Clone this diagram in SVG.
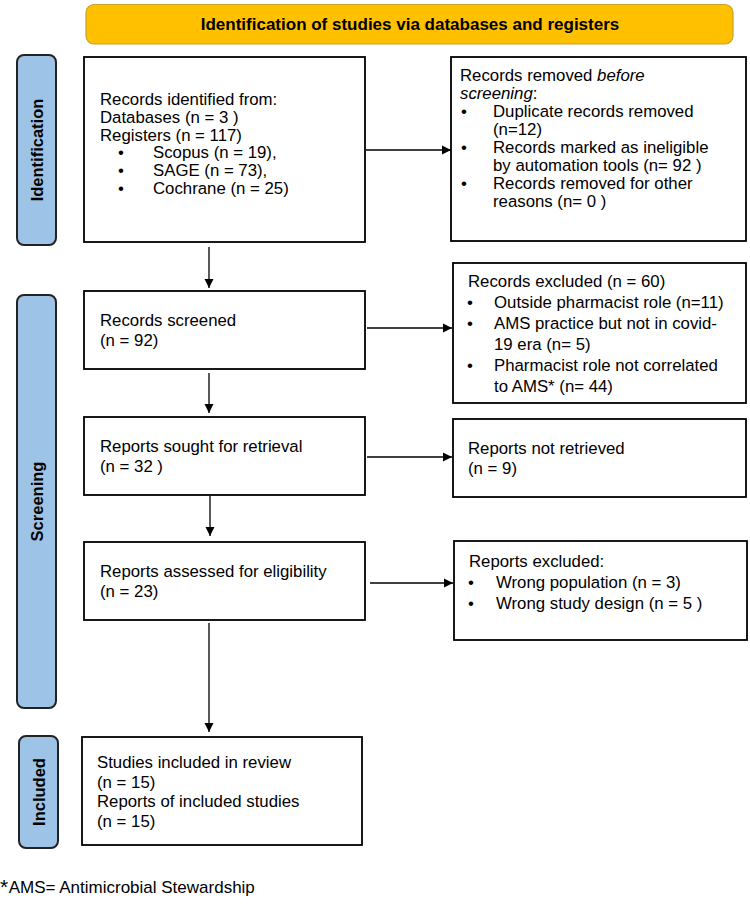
<svg xmlns="http://www.w3.org/2000/svg" width="750" height="904" viewBox="0 0 750 904">
<style>
text{font-family:"Liberation Sans",Arial,sans-serif;fill:#000}
.t{font-size:16.8px}
.side{font-size:16.5px;font-weight:bold;text-anchor:middle}
.box{fill:#fff;stroke:#000;stroke-width:1.8}
.sb{fill:#9DC3E6;stroke:#222;stroke-width:2}
.c{stroke:#000;stroke-width:1.3;fill:none}
</style>
<defs>
<marker id="ah" viewBox="0 0 10 10" refX="10" refY="5" markerWidth="9" markerHeight="11" markerUnits="userSpaceOnUse" orient="auto">
<path d="M0,0 L10,5 L0,10 z" fill="#000"/>
</marker>
</defs>
<rect width="750" height="904" fill="#fff"/>

<g id="title">
<rect x="86" y="4.5" width="647" height="39.5" rx="8" fill="#FFC000" stroke="#C9A02A" stroke-width="1.2"/>
<text x="410" y="30" style="font-size:17px;font-weight:bold" text-anchor="middle">Identification of studies via databases and registers</text>
</g>

<g id="side-identification">
<rect class="sb" x="17" y="55" width="39" height="190" rx="7"/>
<text class="side" transform="translate(43,150) rotate(-90)">Identification</text>
</g>
<g id="side-screening">
<rect class="sb" x="17" y="295" width="39" height="413" rx="7"/>
<text class="side" transform="translate(42.5,501.5) rotate(-90)">Screening</text>
</g>
<g id="side-included">
<rect class="sb" x="19" y="736" width="39" height="112" rx="7"/>
<text class="side" transform="translate(44.5,792) rotate(-90)">Included</text>
</g>

<g id="records-identified">
<rect class="box" x="84" y="57" width="281" height="185"/>
<text class="t" x="100" y="105">Records identified from:</text>
<text class="t" x="100" y="122.8">Databases (n = 3 )</text>
<text class="t" x="100" y="140.6">Registers (n = 117)</text>
<text class="t" x="118" y="158.4">•</text><text class="t" x="153" y="158.4">Scopus (n = 19),</text>
<text class="t" x="118" y="176.2">•</text><text class="t" x="153" y="176.2">SAGE (n = 73),</text>
<text class="t" x="118" y="194">•</text><text class="t" x="153" y="194">Cochrane (n = 25)</text>
</g>

<g id="records-removed">
<rect class="box" x="451" y="57" width="295" height="184"/>
<text class="t" x="460" y="80.7">Records removed <tspan font-style="italic">before</tspan></text>
<text class="t" x="460" y="98.7"><tspan font-style="italic">screening</tspan>:</text>
<text class="t" x="461" y="116.7">•</text><text class="t" x="493" y="116.7">Duplicate records removed</text>
<text class="t" x="493" y="134.7">(n=12)</text>
<text class="t" x="461" y="152.7">•</text><text class="t" x="493" y="152.7">Records marked as ineligible</text>
<text class="t" x="493" y="170.7">by automation tools (n= 92 )</text>
<text class="t" x="461" y="188.7">•</text><text class="t" x="493" y="188.7">Records removed for other</text>
<text class="t" x="493" y="206.7">reasons (n= 0 )</text>
</g>

<g id="records-screened">
<rect class="box" x="84" y="291" width="281" height="78"/>
<text class="t" x="100" y="326">Records screened</text>
<text class="t" x="100" y="346">(n = 92)</text>
</g>

<g id="records-excluded">
<rect class="box" x="453" y="263" width="293" height="140"/>
<text class="t" x="468" y="287">Records excluded (n = 60)</text>
<text class="t" x="467" y="308">•</text><text class="t" x="494" y="308">Outside pharmacist role (n=11)</text>
<text class="t" x="467" y="329">•</text><text class="t" x="494" y="329">AMS practice but not in covid-</text>
<text class="t" x="494" y="350">19 era (n= 5)</text>
<text class="t" x="467" y="371">•</text><text class="t" x="494" y="371">Pharmacist role not correlated</text>
<text class="t" x="494" y="392">to AMS* (n= 44)</text>
</g>

<g id="reports-sought">
<rect class="box" x="84" y="417" width="281" height="78"/>
<text class="t" x="100" y="452">Reports sought for retrieval</text>
<text class="t" x="100" y="472">(n = 32 )</text>
</g>

<g id="reports-not-retrieved">
<rect class="box" x="453" y="419" width="293" height="78"/>
<text class="t" x="468" y="454">Reports not retrieved</text>
<text class="t" x="468" y="474">(n = 9)</text>
</g>

<g id="reports-assessed">
<rect class="box" x="84" y="542" width="281" height="78"/>
<text class="t" x="100" y="577">Reports assessed for eligibility</text>
<text class="t" x="100" y="597">(n = 23)</text>
</g>

<g id="reports-excluded">
<rect class="box" x="454" y="541" width="293" height="99"/>
<text class="t" x="469" y="567">Reports excluded:</text>
<text class="t" x="468" y="588">•</text><text class="t" x="496" y="588">Wrong population (n = 3)</text>
<text class="t" x="468" y="609">•</text><text class="t" x="496" y="609">Wrong study design (n = 5 )</text>
</g>

<g id="studies-included">
<rect class="box" x="82" y="737" width="280" height="108"/>
<text class="t" x="97" y="768">Studies included in review</text>
<text class="t" x="97" y="787.6">(n = 15)</text>
<text class="t" x="97" y="807.2">Reports of included studies</text>
<text class="t" x="97" y="826.8">(n = 15)</text>
</g>

<g id="connectors">
<line class="c" x1="209" y1="247" x2="209" y2="288" marker-end="url(#ah)"/>
<line class="c" x1="209" y1="373" x2="209" y2="413" marker-end="url(#ah)"/>
<line class="c" x1="210" y1="496" x2="210" y2="536" marker-end="url(#ah)"/>
<line class="c" x1="209" y1="623" x2="209" y2="732" marker-end="url(#ah)"/>
<line class="c" x1="366" y1="150" x2="451" y2="150" marker-end="url(#ah)"/>
<line class="c" x1="367" y1="328" x2="452" y2="328" marker-end="url(#ah)"/>
<line class="c" x1="367" y1="457" x2="452" y2="457" marker-end="url(#ah)"/>
<line class="c" x1="370" y1="583" x2="453" y2="583" marker-end="url(#ah)"/>
</g>

<g id="footnote">
<text x="0" y="893" style="font-size:17px"><tspan font-size="21px" dy="1">*</tspan><tspan dy="-1" dx="0.5">AMS= Antimicrobial Stewardship</tspan></text>
</g>
</svg>
